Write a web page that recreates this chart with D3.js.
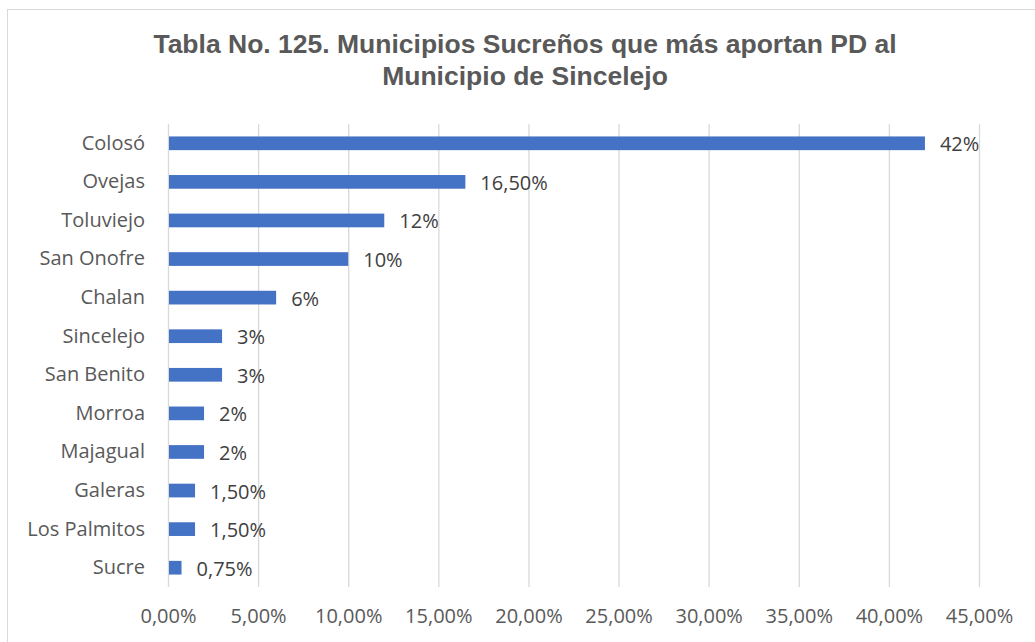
<!DOCTYPE html>
<html>
<head>
<meta charset="utf-8">
<script src="https://cdn.jsdelivr.net/npm/d3@7"></script>
<style>
  body { margin: 0; background: #fff; }
</style>
</head>
<body>
<div id="chart"></div>
<script>
// chart data
const municipios = ["Colosó", "Ovejas", "Toluviejo", "San Onofre", "Chalan", "Sincelejo",
  "San Benito", "Morroa", "Majagual", "Galeras", "Los Palmitos", "Sucre"];
const porcentajes = [42, 16.5, 12, 10, 6, 3, 3, 2, 2, 1.5, 1.5, 0.75];
const etiquetas = ["42%", "16,50%", "12%", "10%", "6%", "3%", "3%", "2%", "2%", "1,50%", "1,50%", "0,75%"];
const ticks = [0, 5, 10, 15, 20, 25, 30, 35, 40, 45];
const tituloLineas = ["Tabla No. 125. Municipios Sucreños que más aportan PD al", "Municipio de Sincelejo"];

const width = 1035, height = 642;
const margin = {top: 124, right: 56, bottom: 55, left: 168};
const fuente = "Open Sans, sans-serif";
const tam = 20;

const svg = d3.select("#chart").append("svg")
    .attr("width", width)
    .attr("height", height);

// chart border
svg.append("rect")
    .attr("x", 7.5).attr("y", 9.5)
    .attr("width", 1100).attr("height", 700)
    .attr("fill", "#fff")
    .attr("stroke", "#d9d9d9");

// title
svg.append("text")
    .attr("x", 525)
    .attr("text-anchor", "middle")
    .attr("font-family", "Liberation Sans, Arial, sans-serif")
    .attr("font-weight", "bold")
    .attr("font-size", 26.5)
    .attr("fill", "#595959")
  .selectAll("tspan")
  .data(tituloLineas)
  .join("tspan")
    .attr("x", 525)
    .attr("y", (d, i) => 53 + i * 32)
    .text(d => d);

const x = d3.scaleLinear()
    .domain([0, 45])
    .range([margin.left, width - margin.right]);

const y = d3.scaleBand()
    .domain(municipios)
    .range([margin.top, height - margin.bottom])
    .paddingInner(0.645)
    .paddingOuter(0.3225);

// vertical gridlines
svg.append("g")
  .selectAll("line")
  .data(ticks)
  .join("line")
    .attr("x1", d => x(d) + 0.5)
    .attr("x2", d => x(d) + 0.5)
    .attr("y1", margin.top)
    .attr("y2", height - margin.bottom)
    .attr("stroke", "#d9d9d9")
    .attr("stroke-width", 1.3);

// x axis tick labels
const xAxis = d3.axisBottom(x)
    .tickValues(ticks)
    .tickSize(0)
    .tickPadding(0)
    .tickFormat(d => d3.format(".2f")(d).replace(".", ",") + "%");

svg.append("g")
    .attr("transform", `translate(0,${height - margin.bottom + 22})`)
    .call(xAxis)
    .call(g => g.select(".domain").remove())
    .call(g => g.selectAll("text")
        .attr("font-family", fuente)
        .attr("font-size", tam)
        .attr("fill", "#595959"));

// y axis category labels
const yAxis = d3.axisLeft(y).tickSize(0).tickPadding(23);
svg.append("g")
    .attr("transform", `translate(${margin.left},0)`)
    .call(yAxis)
    .call(g => g.select(".domain").remove())
    .call(g => g.selectAll("text")
        .attr("font-family", fuente)
        .attr("font-size", tam)
        .attr("fill", "#595959"));

// bars
svg.append("g")
  .selectAll("rect")
  .data(municipios)
  .join("rect")
    .attr("x", x(0) + 1)
    .attr("y", d => y(d))
    .attr("width", (d, i) => x(porcentajes[i]) - x(0) - 1)
    .attr("height", y.bandwidth())
    .attr("fill", "#4472c4");

// value labels
svg.append("g")
  .selectAll("text")
  .data(municipios)
  .join("text")
    .attr("x", (d, i) => x(porcentajes[i]) + 15)
    .attr("y", d => y(d) + y.bandwidth() / 2 + 1)
    .attr("dy", "0.35em")
    .attr("font-family", fuente)
    .attr("font-size", tam)
    .attr("fill", "#404040")
    .text((d, i) => etiquetas[i]);
</script>
</body>
</html>
